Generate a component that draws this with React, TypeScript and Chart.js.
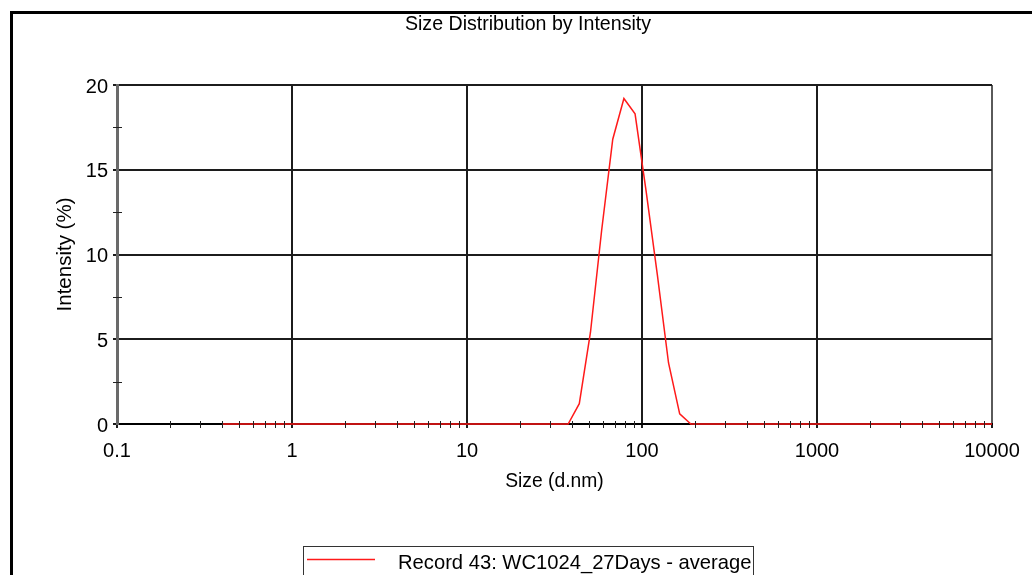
import { useEffect, useRef } from 'react';
import { Chart, registerables } from 'chart.js';

Chart.register(...registerables);

// Hydrodynamic size classes (d.nm) of the intensity distribution
const sizeNm = [
  0.4, 0.4632, 0.5365, 0.6213, 0.7195, 0.8332, 0.9649,
  1.117, 1.294, 1.499, 1.736, 2.01, 2.328, 2.696, 3.122, 3.615, 4.187, 4.849, 5.615, 6.503, 7.531, 8.721,
  10.1, 11.7, 13.54, 15.69, 18.17, 21.04, 24.36, 28.21, 32.67, 37.84, 43.82, 50.75, 58.77, 68.06, 78.82, 91.28,
  105.7, 122.4, 141.8, 164.2, 190.1, 220.2, 255.0, 295.3, 342.0, 396.1, 458.7, 531.2, 615.1, 712.4, 825.0, 955.4,
  1106, 1281, 1484, 1718, 1990, 2305, 2669, 3091, 3580, 4145, 4801, 5560, 6439, 7456, 8635, 10000,
];

// Intensity (%) per size class
const intensityPct = [
  0, 0, 0, 0, 0, 0, 0,
  0, 0, 0, 0, 0, 0, 0, 0, 0, 0, 0, 0, 0, 0, 0,
  0, 0, 0, 0, 0, 0, 0, 0, 0, 0, 1.2, 5.4, 11.4, 16.8, 19.2, 18.3,
  13.7, 8.8, 3.6, 0.6, 0, 0, 0, 0, 0, 0, 0, 0, 0, 0, 0, 0,
  0, 0, 0, 0, 0, 0, 0, 0, 0, 0, 0, 0, 0, 0, 0, 0,
];

const xMajorTicks = [0.1, 1, 10, 100, 1000, 10000];
const xTickLabels = ['0.1', '1', '10', '100', '1000', '10000'];
const minorMultipliers = [2, 3, 4, 5, 6, 7, 8, 9];
const yMajorTicks = [0, 5, 10, 15, 20];
const yTickLabels = ['0', '5', '10', '15', '20'];
const yMinorTicks = [2.5, 7.5, 12.5, 17.5];

const chartTitle = 'Size Distribution by Intensity';
const xAxisTitle = 'Size (d.nm)';
const yAxisTitle = 'Intensity (%)';
const seriesLabel = 'Record 43: WC1024_27Days - average';

const FONT = '"Liberation Sans", Arial, sans-serif';
const GRID_DARK = '#1c1c1c';
const GRID_EDGE = '#5a5a5a';
const LINE_RED = '#ff1a1a';

const xMinorTicks = xMajorTicks
  .slice(0, -1)
  .flatMap((d) => minorMultipliers.map((m) => Number((d * m).toPrecision(3))));

const isMajorX = (v: number) => xMajorTicks.some((t) => Math.abs(t - v) / t < 1e-6);
const isMajorY = (v: number) => yMajorTicks.includes(v);

// Frame, title, legend box and the small minor tick marks that cross the axes
const decorations = {
  id: 'decorations',
  afterDraw(chart: any) {
    const { ctx, chartArea, scales } = chart;
    ctx.save();

    // outer frame (left and top edges)
    ctx.fillStyle = '#000';
    ctx.fillRect(10, 11, 3, 575);
    ctx.fillRect(10, 11, 1032, 3);

    // title
    ctx.fillStyle = '#000';
    ctx.font = `19.6px ${FONT}`;
    ctx.textAlign = 'center';
    ctx.textBaseline = 'middle';
    ctx.fillText(chartTitle, 528, 25);

    // minor ticks on both axes
    ctx.strokeStyle = '#222';
    ctx.lineWidth = 1;
    ctx.beginPath();
    for (const v of xMinorTicks) {
      const px = Math.round(scales.x.getPixelForValue(v)) + 0.5;
      ctx.moveTo(px, chartArea.bottom - 3);
      ctx.lineTo(px, chartArea.bottom + 4);
    }
    for (const v of yMinorTicks) {
      const py = Math.round(scales.y.getPixelForValue(v)) + 0.5;
      ctx.moveTo(chartArea.left - 4, py);
      ctx.lineTo(chartArea.left + 5, py);
    }
    ctx.stroke();

    // legend box
    const ds = chart.data.datasets[0];
    ctx.strokeStyle = '#333';
    ctx.lineWidth = 1;
    ctx.strokeRect(303.5, 546.5, 450, 60);
    ctx.strokeStyle = ds.borderColor;
    ctx.lineWidth = 1.5;
    ctx.beginPath();
    ctx.moveTo(307, 559.5);
    ctx.lineTo(375, 559.5);
    ctx.stroke();
    ctx.fillStyle = '#000';
    ctx.font = `20.2px ${FONT}`;
    ctx.textAlign = 'left';
    ctx.textBaseline = 'middle';
    ctx.fillText(ds.label, 398, 563);

    ctx.restore();
  },
};

export default function App() {
  const canvasRef = useRef<HTMLCanvasElement | null>(null);

  useEffect(() => {
    const canvas = canvasRef.current;
    if (!canvas) return;

    const chart = new Chart(canvas, {
      type: 'line',
      data: {
        datasets: [
          {
            label: seriesLabel,
            data: sizeNm.map((s, i) => ({ x: s, y: intensityPct[i] })),
            borderColor: LINE_RED,
            borderWidth: 1.5,
            pointRadius: 0,
            tension: 0,
            fill: false,
            clip: false,
          },
        ],
      },
      options: {
        animation: false,
        responsive: false,
        devicePixelRatio: 1,
        layout: { padding: { left: 0, top: 85, right: 40, bottom: 0 } },
        plugins: {
          legend: { display: false },
          title: { display: false },
          tooltip: { enabled: false },
        },
        scales: {
          x: {
            type: 'logarithmic',
            min: 0.1,
            max: 10000,
            afterBuildTicks: (scale: any) => {
              scale.ticks = [...xMajorTicks, ...xMinorTicks]
                .sort((a, b) => a - b)
                .map((v) => ({ value: v, major: isMajorX(v) }));
            },
            afterFit: (scale: any) => {
              scale.height = 151;
            },
            ticks: {
              autoSkip: false,
              maxRotation: 0,
              minRotation: 0,
              padding: 11,
              color: '#000',
              font: { family: FONT, size: 20 },
              callback: (value: any) => {
                const idx = xMajorTicks.findIndex((t) => Math.abs(t - Number(value)) / t < 1e-6);
                return idx >= 0 ? xTickLabels[idx] : '';
              },
            },
            grid: {
              lineWidth: 2,
              tickLength: 4,
              color: (c: any) => {
                const v = c.tick?.value;
                if (v === undefined || !isMajorX(v)) return 'rgba(0,0,0,0)';
                return v === 0.1 || v === 10000 ? GRID_EDGE : GRID_DARK;
              },
              tickColor: (c: any) => {
                const v = c.tick?.value;
                return v !== undefined && isMajorX(v) ? GRID_DARK : 'rgba(0,0,0,0)';
              },
            },
            border: { color: '#000', width: 2 },
            title: {
              display: true,
              text: xAxisTitle,
              color: '#000',
              font: { family: FONT, size: 19.3 },
              padding: { top: 0, bottom: 82 },
            },
          },
          y: {
            type: 'linear',
            min: 0,
            max: 20,
            afterBuildTicks: (scale: any) => {
              scale.ticks = [...yMajorTicks, ...yMinorTicks]
                .sort((a, b) => a - b)
                .map((v) => ({ value: v }));
            },
            afterFit: (scale: any) => {
              scale.width = 117;
            },
            ticks: {
              autoSkip: false,
              padding: 5,
              labelOffset: 2,
              color: '#000',
              font: { family: FONT, size: 20 },
              callback: (value: any) => {
                const idx = yMajorTicks.indexOf(Number(value));
                return idx >= 0 ? yTickLabels[idx] : '';
              },
            },
            grid: {
              lineWidth: 2,
              tickLength: 4,
              color: (c: any) => {
                const v = c.tick?.value;
                return v !== undefined && isMajorY(v) ? GRID_DARK : 'rgba(0,0,0,0)';
              },
              tickColor: (c: any) => {
                const v = c.tick?.value;
                return v !== undefined && isMajorY(v) ? GRID_DARK : 'rgba(0,0,0,0)';
              },
            },
            border: { color: '#6a6a6a', width: 3 },
            title: {
              display: true,
              text: yAxisTitle,
              color: '#000',
              font: { family: FONT, size: 20.5 },
              padding: { top: 53, bottom: 0 },
            },
          },
        },
      },
      plugins: [decorations],
    } as any);

    return () => chart.destroy();
  }, []);

  return (
    <div style={{ position: 'fixed', left: 0, top: 0, width: 1032, height: 575, background: '#fff' }}>
      <canvas ref={canvasRef} width={1032} height={575} style={{ display: 'block' }} />
    </div>
  );
}
